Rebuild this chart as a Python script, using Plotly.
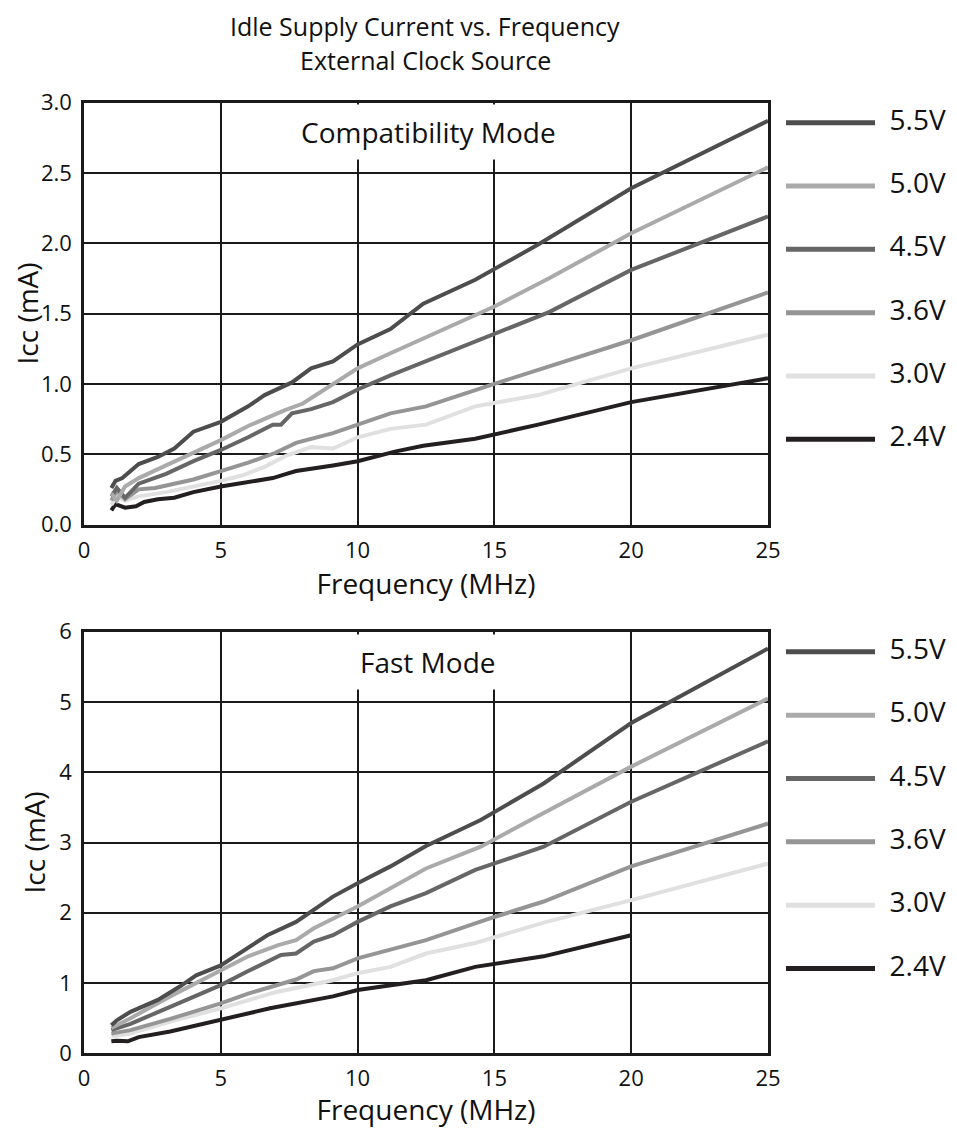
import plotly.graph_objects as go

VOLTAGES = ["5.5V", "5.0V", "4.5V", "3.6V", "3.0V", "2.4V"]
COLORS = ["#4d4d4d", "#aaaaaa", "#666666", "#959595", "#e0e0e0", "#231f20"]

# Compatibility mode: frequency (MHz) and Icc (mA) per supply voltage
COMPAT_FREQ = {
    "5.5V": [1.0, 1.15, 1.4, 1.7, 2.0, 2.7, 3.3, 4.0, 5.0, 6.0, 6.6, 7.6, 8.3, 9.1, 10.0, 11.2, 12.4, 14.3, 16.6, 20, 25],
    "5.0V": [1.0, 1.2, 1.5, 2.0, 3.0, 4.0, 5.0, 6.0, 7.3, 8.0, 9.1, 10.0, 11.0, 12.4, 15.0, 17.0, 20, 25],
    "4.5V": [1.0, 1.2, 1.5, 2.0, 3.0, 4.0, 5.0, 6.0, 6.9, 7.2, 7.6, 8.3, 9.1, 10.0, 11.2, 12.5, 15, 17, 20, 25],
    "3.6V": [1.0, 1.2, 1.5, 2.0, 2.6, 3.3, 4.0, 5.0, 6.0, 7.0, 7.75, 9.1, 10.0, 11.2, 12.5, 15, 20, 25],
    "3.0V": [1.0, 1.2, 1.5, 2.0, 3.0, 4.0, 5.0, 5.8, 6.6, 7.4, 8.3, 9.1, 10.0, 11.2, 12.5, 14.3, 16.6, 20, 25],
    "2.4V": [1.0, 1.15, 1.5, 1.9, 2.2, 2.7, 3.3, 4.0, 5.0, 6.0, 6.9, 7.4, 7.75, 9.1, 10.0, 11.4, 12.4, 14.3, 16.6, 20, 25],
}
COMPAT_ICC = {
    "5.5V": [0.26, 0.31, 0.33, 0.38, 0.43, 0.48, 0.54, 0.66, 0.73, 0.84, 0.92, 1.01, 1.11, 1.16, 1.28, 1.39, 1.57, 1.74, 1.99, 2.39, 2.87],
    "5.0V": [0.22, 0.17, 0.27, 0.33, 0.42, 0.51, 0.60, 0.70, 0.81, 0.86, 1.0, 1.11, 1.20, 1.32, 1.55, 1.75, 2.07, 2.54],
    "4.5V": [0.20, 0.26, 0.19, 0.29, 0.36, 0.45, 0.53, 0.62, 0.71, 0.71, 0.79, 0.82, 0.87, 0.96, 1.06, 1.16, 1.35, 1.51, 1.81, 2.19],
    "3.6V": [0.17, 0.24, 0.18, 0.25, 0.26, 0.29, 0.32, 0.38, 0.44, 0.51, 0.58, 0.65, 0.71, 0.79, 0.84, 1.0, 1.31, 1.65],
    "3.0V": [0.14, 0.20, 0.17, 0.20, 0.23, 0.27, 0.31, 0.35, 0.41, 0.49, 0.55, 0.54, 0.62, 0.68, 0.71, 0.84, 0.92, 1.11, 1.35],
    "2.4V": [0.10, 0.145, 0.12, 0.13, 0.16, 0.18, 0.19, 0.23, 0.27, 0.30, 0.33, 0.36, 0.38, 0.42, 0.45, 0.52, 0.56, 0.61, 0.71, 0.87, 1.04],
}

# Fast mode
FAST_FREQ = {
    "5.5V": [1.0, 1.2, 1.7, 2.7, 3.5, 4.1, 5.0, 6.0, 6.7, 7.75, 9.1, 10.0, 11.2, 12.5, 14.5, 16.8, 20, 25],
    "5.0V": [1.0, 1.7, 3.15, 5.0, 6.0, 7.1, 7.75, 8.4, 10.0, 12.5, 14.5, 16.8, 20, 25],
    "4.5V": [1.0, 1.7, 3.15, 5.0, 6.0, 7.2, 7.75, 8.4, 9.1, 10.0, 11.2, 12.5, 14.3, 16.8, 20, 25],
    "3.6V": [1.0, 1.7, 3.15, 5.0, 6.0, 7.0, 7.75, 8.4, 9.1, 10.0, 12.5, 15, 16.8, 20, 25],
    "3.0V": [1.0, 1.7, 3.15, 5.0, 7.0, 9.1, 10.0, 11.2, 12.5, 14.3, 16.8, 20, 25],
    "2.4V": [1.0, 1.2, 1.6, 2.0, 3.15, 5.0, 6.8, 9.1, 10.0, 12.5, 14.3, 16.8, 20],
}
FAST_ICC = {
    "5.5V": [0.40, 0.47, 0.59, 0.76, 0.95, 1.11, 1.25, 1.50, 1.68, 1.87, 2.23, 2.42, 2.66, 2.95, 3.32, 3.84, 4.70, 5.76],
    "5.0V": [0.36, 0.50, 0.81, 1.19, 1.38, 1.54, 1.61, 1.78, 2.09, 2.63, 2.94, 3.42, 4.08, 5.05],
    "4.5V": [0.33, 0.42, 0.66, 0.97, 1.17, 1.40, 1.42, 1.59, 1.68, 1.87, 2.09, 2.28, 2.61, 2.94, 3.58, 4.44],
    "3.6V": [0.28, 0.33, 0.49, 0.71, 0.85, 0.97, 1.05, 1.17, 1.21, 1.35, 1.61, 1.94, 2.16, 2.66, 3.27],
    "3.0V": [0.24, 0.28, 0.45, 0.64, 0.87, 1.04, 1.14, 1.23, 1.42, 1.57, 1.86, 2.18, 2.70],
    "2.4V": [0.17, 0.18, 0.17, 0.23, 0.31, 0.47, 0.64, 0.81, 0.90, 1.04, 1.23, 1.38, 1.68],
}

TITLE_LINES = ["Idle Supply Current vs. Frequency", "External Clock Source"]

FONT = "Open Sans"
INK = "#111111"
# the page body has an 8px margin, so the figure is sized to end at the window edge
OFF = 8
W, H = 957 - OFF, 1128 - OFF


def px_x(p):
    return (p - OFF) / W


def px_y(p):
    return 1 - (p - OFF) / H


fig = go.Figure()

# data curves, drawn bottom-up so darker/higher curves sit on top like the original
for xa, ya, freq, icc in (("x", "y", COMPAT_FREQ, COMPAT_ICC), ("x2", "y2", FAST_FREQ, FAST_ICC)):
    for v, c in reversed(list(zip(VOLTAGES, COLORS))):
        fig.add_trace(go.Scatter(
            x=freq[v], y=icc[v], mode="lines", name=v,
            line=dict(color=c, width=4), xaxis=xa, yaxis=ya,
            showlegend=False, hoverinfo="x+y+name",
        ))

# key: one short line per voltage on its own hidden axes, label to the right
for xa, ya in (("x3", "y3"), ("x4", "y4")):
    for i, (v, c) in enumerate(zip(VOLTAGES, COLORS)):
        fig.add_trace(go.Scatter(
            x=[0, 1], y=[i, i], mode="lines+text", text=["", "  " + v],
            textposition="middle right",
            textfont=dict(family=FONT, size=28, color=INK),
            line=dict(color=c, width=5), xaxis=xa, yaxis=ya,
            showlegend=False, hoverinfo="skip", cliponaxis=False,
        ))

grid = dict(
    showgrid=True, gridcolor="#1a1a1a", gridwidth=2, zeroline=False,
    showline=True, linecolor="#1a1a1a", linewidth=2.5, mirror=True,
    ticks="", tickfont=dict(family=FONT, size=22, color=INK),
    automargin=False,
)
xdom = [px_x(84), px_x(768)]
title_font = dict(family=FONT, size=28, color=INK)
xaxis_common = dict(grid, range=[0, 25], dtick=5, domain=xdom, ticklabelstandoff=4,
                    title=dict(text="Frequency (MHz)", font=title_font, standoff=4))

fig.update_layout(
    width=W, height=H,
    margin=dict(l=0, r=0, t=0, b=0),
    paper_bgcolor="white", plot_bgcolor="white",
    font=dict(family=FONT, color=INK),
    xaxis=dict(xaxis_common, anchor="y"),
    yaxis=dict(grid, range=[0, 3], dtick=0.5, tickformat=".1f", anchor="x",
               domain=[px_y(524.5), px_y(102.5)], ticklabelstandoff=5,
               title=dict(text="Icc (mA)", font=title_font, standoff=6)),
    xaxis2=dict(xaxis_common, anchor="y2"),
    yaxis2=dict(grid, range=[0, 6], dtick=1, anchor="x2",
                domain=[px_y(1053.3), px_y(631.7)], ticklabelstandoff=5,
                title=dict(text="Icc (mA)", font=title_font, standoff=6)),
    xaxis3=dict(visible=False, range=[0, 1], domain=[px_x(786), px_x(875)], anchor="y3"),
    yaxis3=dict(visible=False, range=[5.5, -0.5], domain=[px_y(471), px_y(91)], anchor="x3"),
    xaxis4=dict(visible=False, range=[0, 1], domain=[px_x(786), px_x(875)], anchor="y4"),
    yaxis4=dict(visible=False, range=[5.5, -0.5], domain=[px_y(1000.2), px_y(620.2)], anchor="x4"),
    showlegend=False,
)

# two-line heading, one annotation per line
for line, centre in zip(TITLE_LINES, (25.5, 59.5)):
    fig.add_annotation(
        text=line, xref="paper", x=px_x(425), yref="paper", y=px_y(centre),
        xanchor="center", yanchor="middle", showarrow=False, borderpad=0,
        font=dict(family=FONT, size=25, color=INK),
    )

for text, box_top in (("Compatibility Mode", 104.5), ("Fast Mode", 633.7)):
    fig.add_annotation(
        text=text, xref="paper", x=px_x(428), yref="paper", y=px_y(box_top),
        xanchor="center", yanchor="top", showarrow=False,
        bgcolor="white", borderpad=8,
        font=dict(family=FONT, size=28, color=INK),
    )

fig.write_html("out.html")
